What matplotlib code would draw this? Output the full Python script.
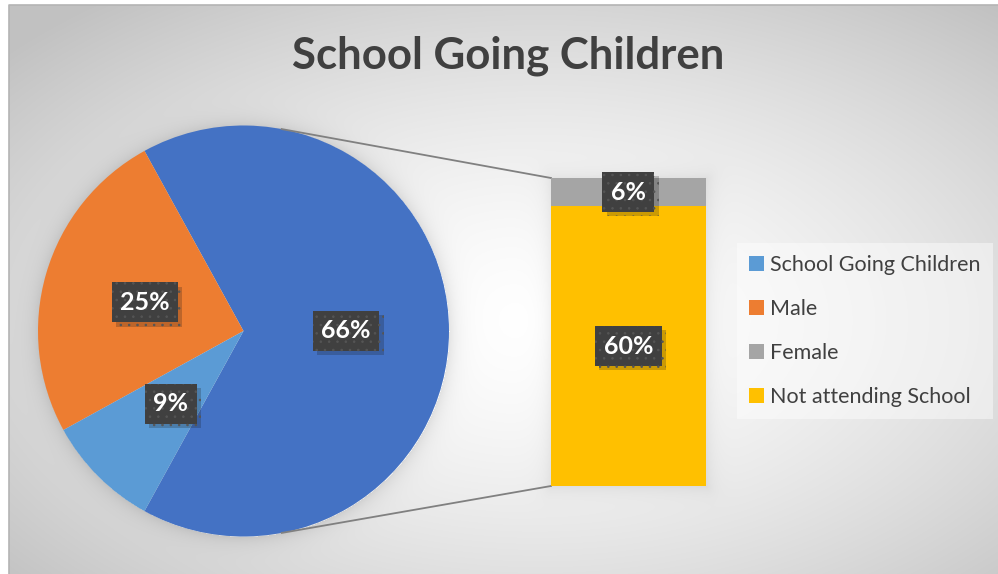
import numpy as np
import matplotlib
matplotlib.use("Agg")
import matplotlib.pyplot as plt
import matplotlib.patheffects as pe
from matplotlib.patches import Patch

plt.rcParams["font.family"] = ["Lato", "DejaVu Sans"]
plt.rcParams["hatch.linewidth"] = 0.6

# pie: "other" share first, then the shown slices
pie_labels = ["Other", "Male", "School Going Children"]
pie_values = [66, 25, 9]
pie_colors = ["#4472C4", "#ED7D31", "#5B9BD5"]

# bar breakdown of the 66% share (bottom to top)
bar_labels = ["Not attending School", "Female"]
bar_values = [60, 6]
bar_colors = ["#FFC000", "#A5A5A5"]

legend_labels = ["School Going Children", "Male", "Female", "Not attending School"]
legend_colors = ["#5B9BD5", "#ED7D31", "#A5A5A5", "#FFC000"]

W, H = 998, 574
TEXT = "#404040"

fig = plt.figure(figsize=(W / 100, H / 100), dpi=100)
ax = fig.add_axes([0, 0, 1, 1])

# layout in pixel units (y up)
pie_c = (243.5, 243.0)
pie_r = 205.5
bar_x, bar_w = 628.5, 155
bar_base = 88.0
bar_scale = 308.0 / sum(bar_values)

# background: soft radial fill with a faint halo round the pie and bar
yy, xx = np.mgrid[0:H, 0:W].astype(float)
d = np.hypot((xx - 540) / (W / 2), (yy - 320) / (H / 2)) / np.sqrt(2)
bg = 1 - 0.24 * np.clip(d, 0, 1) ** 1.5
rr = np.hypot(xx - pie_c[0], (H - yy) - pie_c[1]) - pie_r
bg -= np.where(rr > 0, 0.09 * np.exp(-rr / 9), 0)
bl, br = bar_x - bar_w / 2, bar_x + bar_w / 2
bt = bar_base + bar_scale * sum(bar_values)
ddx = np.maximum(np.maximum(bl - xx, xx - br), 0)
ddy = np.maximum(np.maximum(bar_base - (H - yy), (H - yy) - bt), 0)
bg -= 0.06 * np.exp(-np.hypot(ddx, ddy) / 8)
bg = np.clip(bg, 0, 1)
ax.imshow(np.dstack([bg] * 3)[5:, 9:], extent=(9, W, 0, H - 5),
          origin="upper", zorder=0, interpolation="bilinear")
ax.plot([9, 9, W + 5], [-5, H - 5, H - 5], color="#b4b4b4", lw=1.2, zorder=0.5)

label_box = dict(boxstyle="square,pad=0.34", facecolor="#404040",
                 edgecolor="#555555", linewidth=0, hatch="..")


def style_label(t):
    t.set_color("white")
    t.set_fontsize(18)
    t.set_fontweight("bold")
    t.set_bbox(label_box)
    t.get_bbox_patch().set_path_effects(
        [pe.withSimplePatchShadow(offset=(3, -3), alpha=0.22)])


start = -pie_values[0] / 100 * 360 / 2
wedges, _, autotexts = ax.pie(
    pie_values, colors=pie_colors, startangle=start, center=pie_c,
    radius=pie_r, autopct=lambda p: f"{p:.0f}%", pctdistance=0.5,
    wedgeprops=dict(linewidth=0))
for t in autotexts:
    style_label(t)

# stacked bar for the split-out share
bottom = bar_base
for lab, val, col in zip(bar_labels, bar_values, bar_colors):
    bars = ax.bar(bar_x, val * bar_scale, width=bar_w, bottom=bottom,
                  color=col, linewidth=0, zorder=2)
    (t,) = ax.bar_label(bars, labels=[f"{val}%"], label_type="center")
    style_label(t)
    bottom += val * bar_scale

# connector lines from the pie to the bar
ang = np.deg2rad(79.3)
for s, y_end in [(1, bt), (-1, bar_base)]:
    ax.plot([pie_c[0] + pie_r * np.cos(ang), bl],
            [pie_c[1] + s * pie_r * np.sin(ang), y_end],
            color="#808080", lw=1.3, zorder=1.5)

ax.text(508.5, H - 68, "School Going Children", ha="center", va="baseline",
        fontsize=31.5, fontweight="bold", color=TEXT)

handles = [Patch(facecolor=c, edgecolor="none") for c in legend_colors]
leg = ax.legend(handles, legend_labels, loc="center left",
                bbox_to_anchor=(737 / W, (H - 331) / H), fontsize=15.5,
                labelcolor=TEXT, frameon=True, fancybox=False,
                handlelength=0.7, handleheight=0.7, handletextpad=0.3,
                labelspacing=1.12, borderpad=0.55, borderaxespad=0)
leg.get_frame().set_facecolor("white")
leg.get_frame().set_alpha(0.45)
leg.get_frame().set_linewidth(0)

ax.set_xlim(0, W)
ax.set_ylim(0, H)
ax.set_aspect("auto")
ax.axis("off")

fig.savefig("out.png", dpi=100)
